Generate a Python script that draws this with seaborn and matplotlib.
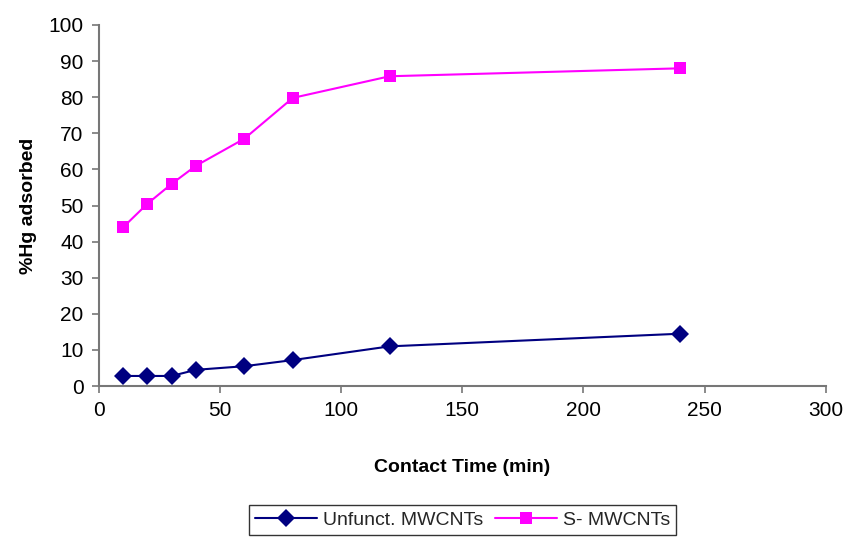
import matplotlib
matplotlib.use("Agg")
import matplotlib.pyplot as plt
import seaborn as sns
import pandas as pd

# ----------------------------------------------------------
# Donnees
# ----------------------------------------------------------
contact_time = [10, 20, 30, 40, 60, 80, 120, 240]
unfunct = [2.8, 2.8, 2.8, 4.5, 5.5, 7.2, 11.0, 14.5]
s_mwcnt = [44.0, 50.5, 56.0, 61.0, 68.5, 79.8, 85.8, 88.0]
series_names = ["Unfunct. MWCNTs", "S- MWCNTs"]

df = pd.DataFrame({
    "time": contact_time * 2,
    "value": unfunct + s_mwcnt,
    "serie": [series_names[0]] * len(contact_time) + [series_names[1]] * len(contact_time),
})

sns.set_style("white")
plt.rcParams["font.family"] = ["Liberation Sans", "DejaVu Sans"]

fig = plt.figure(figsize=(8.46, 5.43), dpi=100)
ax = fig.add_axes([0.117, 0.289, 0.859, 0.665])

sns.lineplot(data=df, x="time", y="value", hue="serie", style="serie",
             palette={series_names[0]: "#000080", series_names[1]: "#FF00FF"},
             markers={series_names[0]: "D", series_names[1]: "s"},
             dashes=False, markersize=9, linewidth=1.5, markeredgewidth=0,
             ax=ax)

ax.set_xlim(0, 300)
ax.set_ylim(0, 100)
ax.set_xticks(range(0, 301, 50))
ax.set_yticks(range(0, 101, 10))
ax.tick_params(axis="both", labelsize=15, labelcolor="black", direction="out",
               length=5, color="#777777", width=1.2, left=True, bottom=True, pad=6)
for side in ["top", "right"]:
    ax.spines[side].set_visible(False)
for side in ["left", "bottom"]:
    ax.spines[side].set_color("#777777")
    ax.spines[side].set_linewidth(1.5)

ax.set_xlabel("Contact Time (min)", fontsize=14, fontweight="bold", labelpad=28,
              color="black")
ax.set_ylabel("%Hg adsorbed", fontsize=14, fontweight="bold", labelpad=8,
              color="black")

handles, labels = ax.get_legend_handles_labels()
ax.legend(handles, labels, loc="upper center", bbox_to_anchor=(0.5, -0.33),
          ncol=2, frameon=True, fancybox=False, edgecolor="black",
          fontsize=14, handlelength=3.2, columnspacing=0.6, handletextpad=0.3,
          borderpad=0.3, borderaxespad=0)

fig.savefig("out.png", dpi=100)
plt.close(fig)
